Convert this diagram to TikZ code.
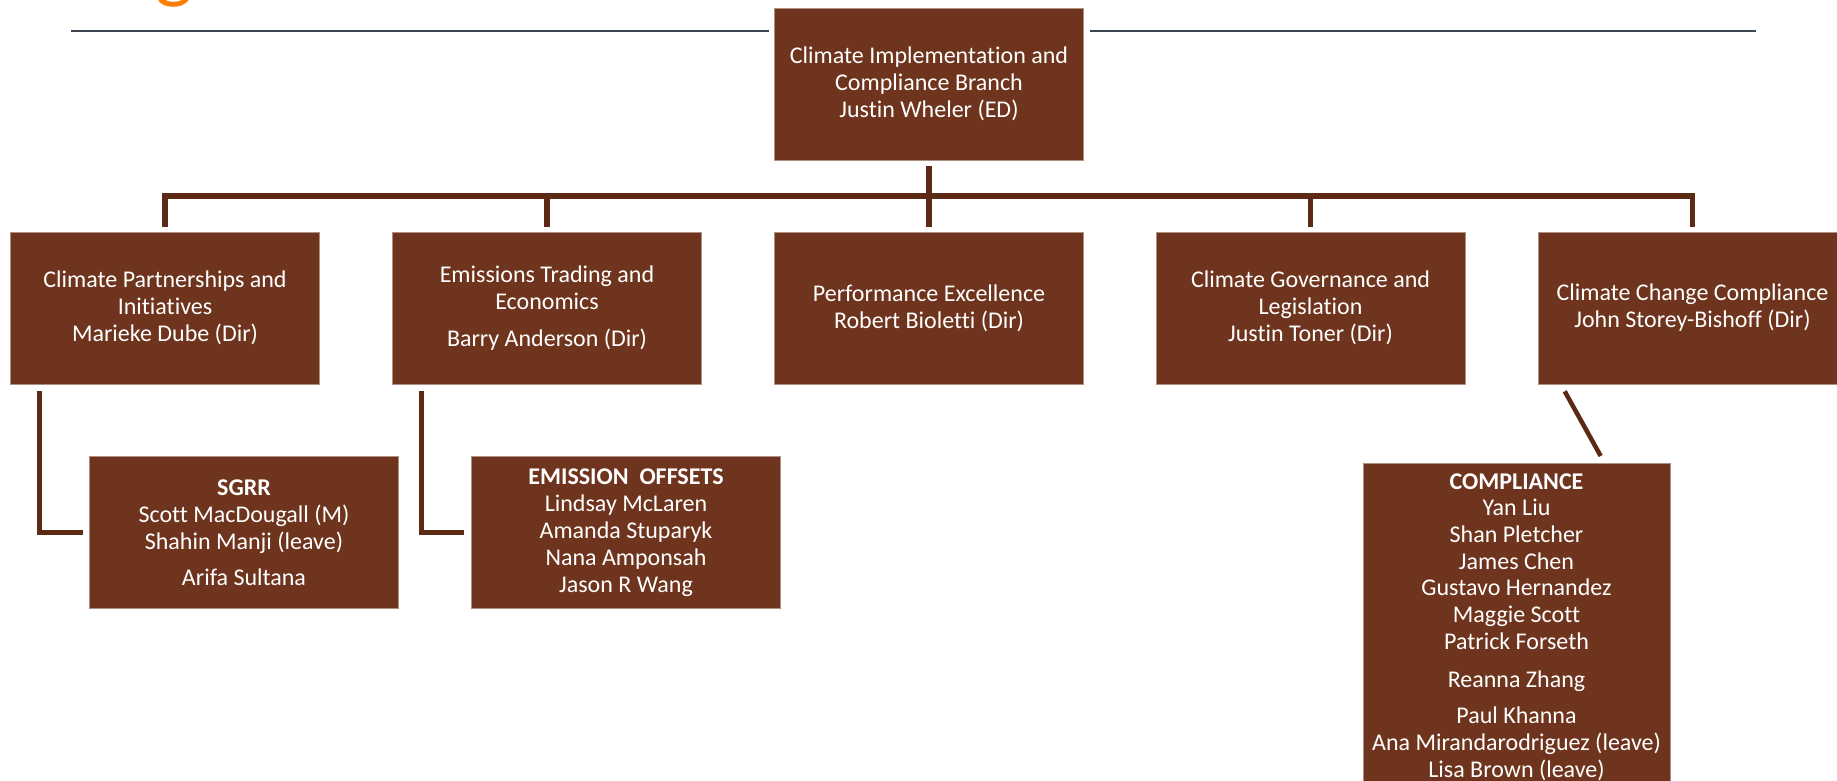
\documentclass[tikz,border=0pt]{standalone}
\usepackage{fontspec}
\setmainfont{Carlito}[Ligatures=NoCommon]
\usepackage{tikz}
\definecolor{boxbrown}{RGB}{111,52,29}
\definecolor{linebrown}{RGB}{92,41,21}
\definecolor{rulegray}{RGB}{59,70,80}
\definecolor{titleorange}{RGB}{255,125,0}

\begin{document}
\begin{tikzpicture}[x=1pt,y=-1pt,
    box/.style={fill=boxbrown, draw=boxbrown!55!white, line width=0.6pt,
      minimum width=309pt, minimum height=152pt, inner sep=0pt,
      text=white, align=center, font=\fontsize{24}{27}\selectfont},
    conn/.style={draw=linebrown, line width=5.5pt}]
  \useasboundingbox (0,0) rectangle (1837,780);
  \clip (0,0) rectangle (1837,780);

  % title remnant and header rules
  \node [text=titleorange, font=\fontsize{80}{80}\selectfont, anchor=base, inner sep=0pt] (titleg) at (174,-7) {g};
  \draw [rulegray, line width=2.5pt] (71,31) -- (769,31);
  \draw [rulegray, line width=2.5pt] (1090,31) -- (1756,31);

  % branch
  \node [box] (branch) at (929,84) {Climate Implementation and\\Compliance Branch\\Justin Wheler (ED)};

  % directorates
  \node [box] (partner) at (165,308) {Climate Partnerships and\\Initiatives\\Marieke Dube (Dir)};
  \node [box] (trading) at (547,308) {Emissions Trading and\\Economics\\[10pt]Barry Anderson (Dir)};
  \node [box] (perform) at (929,308) {Performance Excellence\\Robert Bioletti (Dir)};
  \node [box] (govern) at (1310.5,308) {Climate Governance and\\Legislation\\Justin Toner (Dir)};
  \node [box] (change) at (1692.5,308) {Climate Change Compliance\\John Storey-Bishoff (Dir)};

  % units
  \node [box] (sgrr) at (244,532.5) {\textbf{SGRR}\\Scott MacDougall (M)\\Shahin Manji (leave)\\[9pt]Arifa Sultana};
  \node [box] (offsets) at (626,532.5) {\textbf{EMISSION\ \ OFFSETS}\\Lindsay McLaren\\Amanda Stuparyk\\Nana Amponsah\\Jason R Wang};
  \node [box, minimum width=307pt, minimum height=335pt, anchor=north,
    font=\fontsize{24}{26.7}\selectfont] (comply) at (1516.5,463)
    {\\[-1pt]\textbf{COMPLIANCE}\\Yan Liu\\Shan Pletcher\\James Chen\\Gustavo Hernandez\\Maggie Scott\\Patrick Forseth\\[12pt]Reanna Zhang\\[9pt]Paul Khanna\\Ana Mirandarodriguez (leave)\\Lisa Brown (leave)\\[4pt]};

  % connectors
  \coordinate (bus) at (929,196);
  \draw [conn, shorten <=6pt, shorten >=5pt] (branch.south) -- (perform.north);
  \draw [conn, shorten <=5pt, shorten >=5pt] (partner.north) -- (partner.north |- bus)
    -- (change.north |- bus) -- (change.north);
  \draw [conn, shorten >=5pt] (trading.north |- bus) -- (trading.north);
  \draw [conn, shorten >=5pt] (govern.north |- bus) -- (govern.north);

  \draw [conn, line width=5pt, shorten >=6pt] ([xshift=29.5pt,yshift=-7pt]partner.south west) |- (sgrr.west);
  \draw [conn, line width=5pt, shorten >=7pt] ([xshift=29pt,yshift=-7pt]trading.south west) |- (offsets.west);
  \draw [conn, line width=4.5pt] ([xshift=27pt,yshift=-7pt]change.south west) -- ([xshift=238pt,yshift=7pt]comply.north west);
\end{tikzpicture}
\end{document}
